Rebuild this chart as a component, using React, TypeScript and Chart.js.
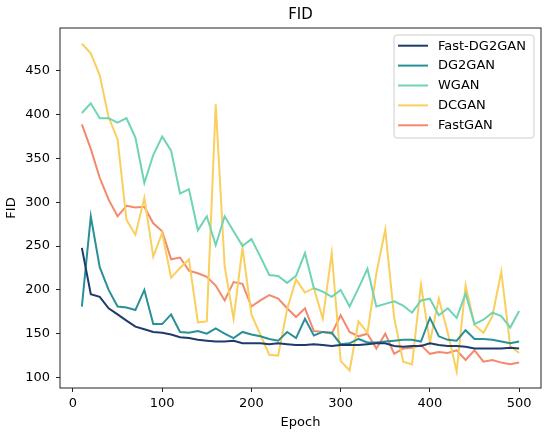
import React, { useEffect, useRef } from "react";
import Chart from "chart.js/auto";

// epochs on the x axis, one point every 10 epochs
const epochs = [
  10, 20, 30, 40, 50, 60, 70, 80, 90, 100, 110, 120, 130, 140, 150, 160, 170,
  180, 190, 200, 210, 220, 230, 240, 250, 260, 270, 280, 290, 300, 310, 320,
  330, 340, 350, 360, 370, 380, 390, 400, 410, 420, 430, 440, 450, 460, 470,
  480, 490, 500,
];

const fastDg2gan = [
  248, 195, 192, 179, 172, 165, 158, 155, 152, 151, 149, 146, 145, 143, 142,
  141, 141, 142, 139, 139, 139, 138, 139, 138, 137, 137, 138, 137, 136, 137,
  137, 137, 138, 139, 139, 136, 135, 136, 136, 139, 137, 136, 136, 135, 133,
  133, 133, 133, 134, 133,
];

const dg2gan = [
  181, 284, 226, 200, 181, 180, 177, 200, 161, 161, 172, 152, 151, 153, 150,
  156, 150, 145, 152, 149, 147, 144, 142, 152, 145, 167, 148, 152, 151, 138,
  139, 144, 140, 140, 141, 142, 143, 143, 141, 168, 147, 143, 142, 154, 144,
  144, 143, 141, 139, 141,
];

const wgan = [
  402, 413, 396, 396, 391, 396, 374, 322, 354, 375, 359, 310, 315, 268, 284,
  251, 284, 267, 250, 258, 238, 217, 216, 208, 216, 242, 202, 198, 192, 200,
  181, 202, 224, 181, 184, 187, 182, 174, 188, 190, 171, 179, 168, 196, 161,
  166, 174, 170, 157, 176,
];

const dcgan = [
  481, 470, 445, 397, 372, 280, 263, 305, 238, 265, 214, 225, 235, 163, 164,
  412, 227, 167, 248, 172, 149, 126, 125, 178, 212, 197, 202, 167, 242, 119,
  108, 164, 151, 219, 269, 168, 118, 115, 206, 140, 190, 151, 107, 205, 160,
  151, 170, 221, 136, 128,
];

const fastgan = [
  389, 361, 328, 303, 284, 296, 294, 295, 276, 267, 235, 237, 222, 219, 215,
  205, 188, 209, 207, 181, 188, 194, 190, 179, 169, 179, 153, 152, 150, 171,
  152, 147, 150, 133, 150, 127, 133, 134, 137, 127, 129, 128, 131, 120, 131,
  118, 120, 117, 115, 117,
];

const seriesNames = ["Fast-DG2GAN", "DG2GAN", "WGAN", "DCGAN", "FastGAN"];
const seriesColors = ["#1f3b6c", "#2a9098", "#6fd4b4", "#f9cf5d", "#f4896b"];
const seriesValues = [fastDg2gan, dg2gan, wgan, dcgan, fastgan];

const xTicks = [0, 100, 200, 300, 400, 500];
const yTicks = [100, 150, 200, 250, 300, 350, 400, 450];

const FONT = "'DejaVu Sans', sans-serif";

// frame, title and legend drawn the matplotlib way
const decorPlugin = {
  id: "decor",
  afterDraw(chart: any) {
    const { ctx, chartArea } = chart;
    const { left, top, right, bottom } = chartArea;
    ctx.save();

    ctx.strokeStyle = "#222";
    ctx.lineWidth = 1;
    ctx.strokeRect(left, top, right - left, bottom - top);

    ctx.fillStyle = "#000";
    ctx.font = `15px ${FONT}`;
    ctx.textAlign = "center";
    ctx.textBaseline = "middle";
    ctx.fillText("FID", (left + right) / 2, 15);

    // legend box
    const bx = 394;
    const by = 35;
    const bw = 140;
    const bh = 103;
    ctx.fillStyle = "rgba(255,255,255,0.85)";
    ctx.strokeStyle = "#cccccc";
    ctx.beginPath();
    ctx.roundRect(bx, by, bw, bh, 3);
    ctx.fill();
    ctx.stroke();

    ctx.font = `13px ${FONT}`;
    ctx.textAlign = "left";
    chart.data.datasets.forEach((ds: any, i: number) => {
      const y = 45.7 + i * 19.9;
      ctx.strokeStyle = ds.borderColor;
      ctx.lineWidth = 2;
      ctx.beginPath();
      ctx.moveTo(398, y);
      ctx.lineTo(428, y);
      ctx.stroke();
      ctx.fillStyle = "#000";
      ctx.fillText(ds.label, 438, y + 0.5);
    });

    ctx.restore();
  },
};

const App: React.FC = () => {
  const canvasRef = useRef<HTMLCanvasElement>(null);
  const chartRef = useRef<Chart | null>(null);

  useEffect(() => {
    document.body.style.margin = "0";
    if (!canvasRef.current) return;
    if (chartRef.current) chartRef.current.destroy();

    const tickFont = { family: FONT, size: 13 };

    chartRef.current = new Chart(canvasRef.current, {
      type: "line",
      data: {
        datasets: seriesNames.map((name, i) => ({
          label: name,
          data: seriesValues[i].map((v, j) => ({ x: epochs[j], y: v })),
          borderColor: seriesColors[i],
          backgroundColor: seriesColors[i],
          borderWidth: 2,
          pointRadius: 0,
          tension: 0,
          fill: false,
        })),
      },
      options: {
        animation: false,
        responsive: true,
        maintainAspectRatio: false,
        layout: { padding: { top: 28, right: 9, left: 0, bottom: 0 } },
        plugins: {
          legend: { display: false },
          title: { display: false },
          tooltip: { enabled: false },
        },
        scales: {
          x: {
            type: "linear",
            min: -14.5,
            max: 524.5,
            afterBuildTicks: (axis: any) => {
              axis.ticks = xTicks.map((v) => ({ value: v }));
            },
            afterFit: (scale: any) => {
              scale.height = 49;
            },
            border: { display: false },
            grid: {
              drawOnChartArea: false,
              drawTicks: true,
              tickLength: 4,
              tickColor: "#222",
            },
            ticks: { color: "#000", font: tickFont, padding: 4, maxRotation: 0 },
            title: {
              display: true,
              text: "Epoch",
              color: "#000",
              font: tickFont,
              padding: { top: 0, bottom: 7 },
            },
          },
          y: {
            min: 88,
            max: 499,
            afterBuildTicks: (axis: any) => {
              axis.ticks = yTicks.map((v) => ({ value: v }));
            },
            afterFit: (scale: any) => {
              scale.width = 60;
            },
            border: { display: false },
            grid: {
              drawOnChartArea: false,
              drawTicks: true,
              tickLength: 4,
              tickColor: "#222",
            },
            ticks: { color: "#000", font: tickFont, padding: 6 },
            title: {
              display: true,
              text: "FID",
              color: "#000",
              font: tickFont,
              padding: { top: 4, bottom: 0 },
            },
          },
        },
      },
      plugins: [decorPlugin],
    });

    return () => {
      if (chartRef.current) {
        chartRef.current.destroy();
        chartRef.current = null;
      }
    };
  }, []);

  return (
    <div style={{ width: "550px", height: "437px", position: "relative" }}>
      <canvas ref={canvasRef} />
    </div>
  );
};

export default App;
